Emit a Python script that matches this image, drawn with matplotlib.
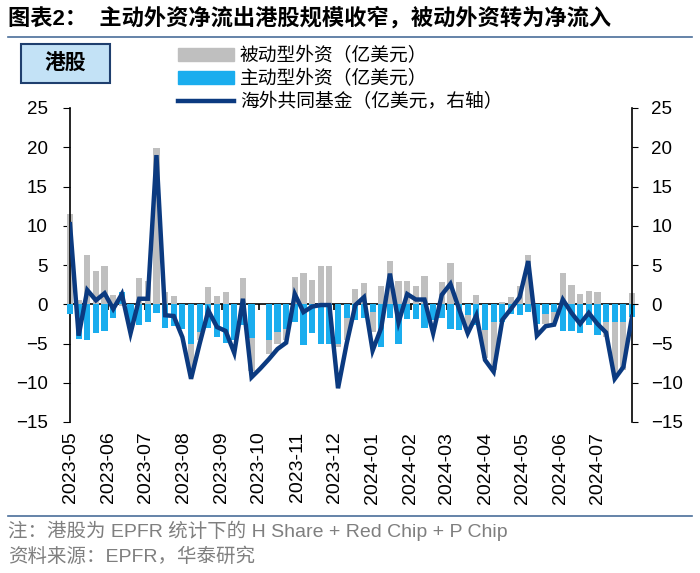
import numpy as np
import pandas as pd
import matplotlib
matplotlib.use("Agg")
import matplotlib.pyplot as plt
import matplotlib.dates as mdates
from matplotlib.patches import Patch, Rectangle
from matplotlib.lines import Line2D

CJK = ["Liberation Sans", "Noto Sans CJK SC"]
plt.rcParams["font.family"] = CJK

# weekly EPFR flows, USD 100m
start_date = "2023-05-03"
n_weeks = 66
passive = [11.5, 0.5, 6.3, 4.2, 4.9, 1.2, -0.2, -1.0, 3.4, 3.0,
           19.9, 1.6, 1.1, -1.0, -8.9, -4.5, 2.2, 1.1, 1.5, -2.0,
           3.4, -8.5, 0.0, -6.3, -5.0, -4.6, 3.5, 4.0, 3.1, 4.9,
           4.9, -5.5, -4.5, 1.9, 2.7, -3.5, 2.3, 5.5, 3.0, 3.0,
           2.3, 3.6, -1.8, 2.8, 5.3, 2.8, -2.9, 1.2, -6.9, -8.4,
           0.3, 0.9, 2.3, 6.3, -1.5, -2.5, -2.4, 4.0, 2.5, 1.3,
           1.7, 1.6, -4.2, -9.3, -8.4, 1.4]
active = [-1.3, -4.4, -4.5, -3.7, -3.4, -1.8, 1.5, -2.7, -2.7, -2.3,
          -1.1, -3.0, -2.8, -3.2, -5.0, -3.5, -3.0, -4.2, -4.9, -4.5,
          -2.7, -4.3, 0.0, -4.6, -3.5, -3.1, -2.3, -5.2, -3.6, -5.0,
          -5.0, -5.0, -1.8, -2.0, -1.8, -1.0, -5.4, -1.8, -5.1, -1.9,
          -1.9, -3.0, -2.0, -1.8, -3.1, -3.3, -1.4, -2.7, -3.3, -2.3,
          -2.3, -1.2, -1.4, -1.0, -2.5, -1.2, -1.0, -3.4, -3.4, -3.7,
          -2.7, -3.9, -2.3, -2.3, -2.3, -1.6]
funds = [10.2, -4.0, 1.8, 0.5, 1.4, -0.6, 1.3, -3.7, 0.7, 0.7,
         19.0, -1.4, -1.5, -4.2, -9.5, -5.0, -0.8, -2.9, -3.4, -6.2,
         0.7, -9.3, -8.2, -7.0, -5.7, -4.9, 1.3, -1.0, -0.3, -0.1,
         -0.1, -10.7, -5.0, -0.1, 0.9, -5.9, -3.0, 3.9, -2.3, 1.3,
         0.6, 0.6, -3.7, 1.2, 2.6, -0.6, -3.7, -1.4, -7.1, -8.6,
         -2.0, -0.6, 0.9, 5.5, -4.0, -2.8, -2.6, 0.6, -1.1, -2.5,
         -1.1, -2.5, -3.6, -9.5, -8.0, -1.6]

labels = ["被动型外资（亿美元）", "主动型外资（亿美元）", "海外共同基金（亿美元，右轴）"]

dates = pd.date_range(start_date, periods=n_weeks, freq="7D")
month_ticks = pd.date_range(start_date, dates[-1], freq=pd.DateOffset(months=1))

GRAY = "#BFBFBF"
BLUE = "#1AADEE"
NAVY = "#0B3A80"

fig = plt.figure(figsize=(7, 5.73), dpi=100)
ax = fig.add_axes([70 / 700, 1 - 422 / 573, 562 / 700, 314 / 573])

ax.bar(dates, passive, width=5, color=GRAY, clip_on=False, zorder=2)
ax.bar(dates, active, width=5, color=BLUE, clip_on=False, zorder=3)

ax.set_ylim(-15, 25)
ax.set_yticks(np.arange(-15, 26, 5))
ax.set_xlim(dates[0], dates[-1])
ax.set_xticks(month_ticks)
ax.xaxis.set_major_formatter(mdates.DateFormatter("%Y-%m"))
ax.tick_params(axis="x", length=0, pad=7, labelsize=14, rotation=90)
ax.tick_params(axis="y", direction="out", length=5, pad=11, labelsize=13.5)
for s in ["top", "bottom", "right"]:
    ax.spines[s].set_visible(False)
ax.spines["left"].set_linewidth(1.2)

# zero line with month ticks
zero = ax.secondary_xaxis(15 / 40)
zero.set_xticks(month_ticks)
zero.set_xticklabels([])
zero.tick_params(direction="out", length=4, width=1.2)
zero.spines["bottom"].set_linewidth(1.2)

ax2 = ax.twinx()
ax2.plot(dates, funds, color=NAVY, lw=3.2, solid_joinstyle="miter", zorder=4)
ax2.set_ylim(-15, 25)
ax2.set_yticks(np.arange(-15, 26, 5))
ax2.tick_params(axis="y", direction="out", length=4, pad=10, labelsize=13.5)
for s in ["top", "bottom", "left"]:
    ax2.spines[s].set_visible(False)
ax2.spines["right"].set_linewidth(1.2)

handles = [Patch(color=GRAY), Patch(color=BLUE), Line2D([], [], color=NAVY, lw=3.2)]
fig.legend(handles, labels, loc="upper left", bbox_to_anchor=(178 / 700, 1 - 47 / 573),
           frameon=False, fontsize=13.5, handlelength=3.0, handleheight=0.7,
           labelspacing=0.28, handletextpad=0.3, borderpad=0, borderaxespad=0)

# title and rules
fig.text(8 / 700, 1 - 18 / 573, "图表2：  主动外资净流出港股规模收窄，被动外资转为净流入",
         fontsize=16, fontweight="bold", va="center", ha="left")
fig.add_artist(Line2D([8 / 700, 692 / 700], [1 - 37 / 573] * 2, color="#4A6E9A", lw=1.2))
fig.add_artist(Line2D([8 / 700, 692 / 700], [1 - 516 / 573] * 2, color="#4A6E9A", lw=1.2))

# tag box
fig.add_artist(Rectangle((21 / 700, 1 - 83 / 573), 89 / 700, 39 / 573, transform=fig.transFigure,
                         facecolor="#C3E2F6", edgecolor="#1F3F6E", lw=1.5))
fig.text(65 / 700, 1 - 64 / 573, "港股", fontsize=15, fontweight="bold", ha="center", va="center")

fig.text(8 / 700, 1 - 531 / 573, "注：港股为 EPFR 统计下的 H Share + Red Chip + P Chip",
         fontsize=14, color="#7F7F7F", va="center", ha="left")
fig.text(8 / 700, 1 - 557 / 573, "资料来源：EPFR，华泰研究",
         fontsize=14, color="#7F7F7F", va="center", ha="left")

fig.savefig("out.png", dpi=100)
